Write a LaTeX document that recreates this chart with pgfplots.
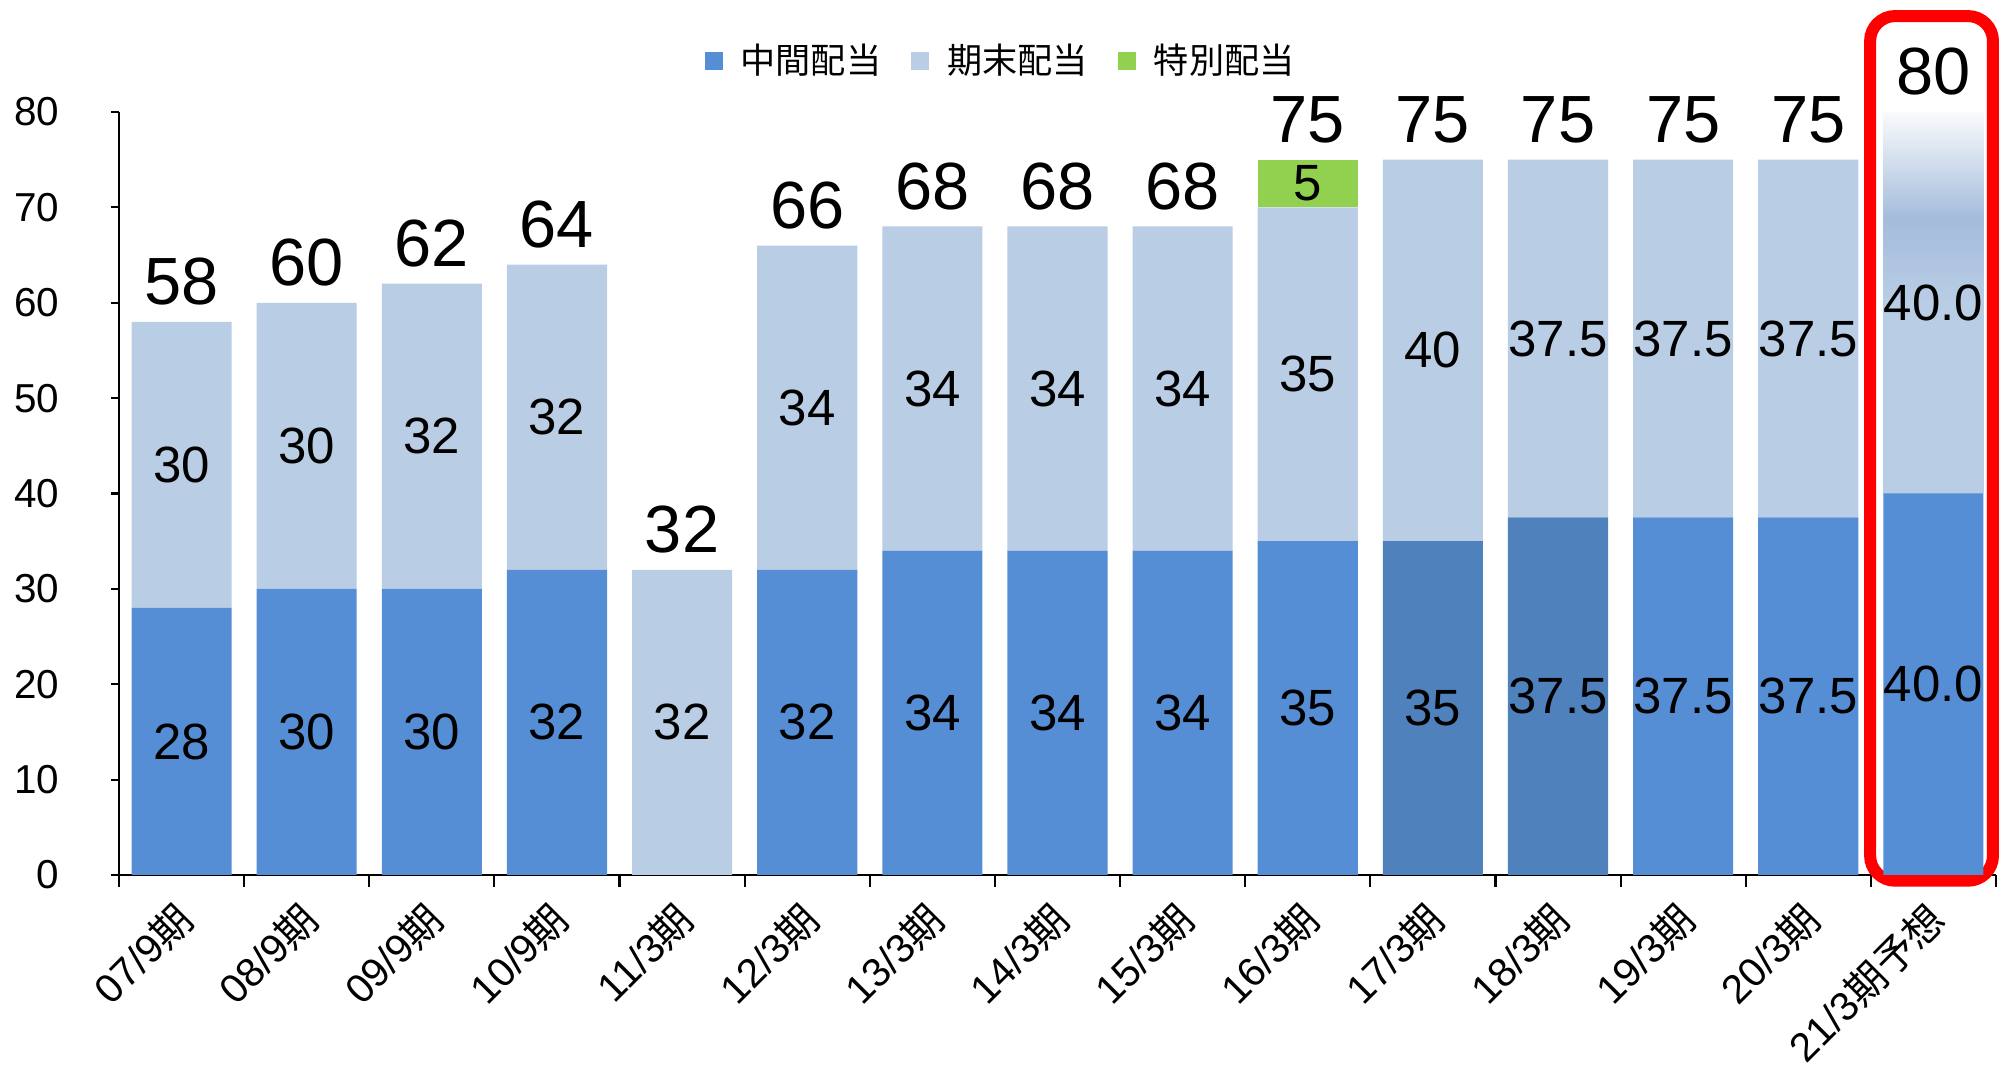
\documentclass[border=0pt]{standalone}
\usepackage{fontspec}
\setmainfont{Liberation Sans}
\newfontfamily\cjk{Noto Sans CJK JP}
\usepackage{pgfplots}
\pgfplotsset{compat=1.18}
\definecolor{midblue}{HTML}{558ED5}
\definecolor{darkblue}{HTML}{4F81BD}
\definecolor{lightblue}{HTML}{B9CDE5}
\definecolor{greyblue}{HTML}{A4BCDB}
\definecolor{special}{HTML}{92D050}
% last (forecast) bar: fades to white at the top
\pgfdeclareverticalshading{forecast}{100bp}{color(0bp)=(lightblue); color(25bp)=(lightblue); color(50bp)=(lightblue); color(61bp)=(greyblue); color(75bp)=(white!92!lightblue); color(100bp)=(white)}

\pgfplotsset{
  seg/.style={draw=none, point meta=explicit symbolic,
    nodes near coords={\pgfplotspointmeta},
    every node near coord/.append style={anchor=center, inner sep=0pt, text=black,
      font=\fontsize{14.5pt}{16pt}\selectfont}},
  sq/.style={legend image code/.code={\fill[##1] (0mm,-0.9mm) rectangle (1.8mm,0.9mm); \path (2.9mm,0);}},
  frame/.style={scale only axis, width=187.7mm, height=76.3mm,
    xmin=-0.5, xmax=14.5, ymin=0, ymax=80, clip=false},
}

\begin{document}
\begin{tikzpicture}
\useasboundingbox (-11.9mm,-20.2mm) rectangle (188.3mm,87.5mm);
\begin{axis}[
    frame,
    ybar stacked, bar width=0.8,
    axis lines*=left,
    axis line style={black, line width=0.7pt},
    tick align=outside,
    tick style={black, line width=0.6pt},
    ytick={0,10,...,80},
    major tick length=0.8mm,
    xtick={0,...,14},
    major x tick style={draw=none},
    minor xtick={-0.5,0.5,...,14.5},
    minor tick length=1.2mm,
    xticklabels={07/9{\cjk 期},08/9{\cjk 期},09/9{\cjk 期},10/9{\cjk 期},11/3{\cjk 期},12/3{\cjk 期},13/3{\cjk 期},14/3{\cjk 期},15/3{\cjk 期},16/3{\cjk 期},17/3{\cjk 期},18/3{\cjk 期},19/3{\cjk 期},20/3{\cjk 期},21/3{\cjk 期予想}},
    xticklabel style={rotate=45, anchor=north east, inner sep=0pt, xshift=-1.7mm, yshift=-0.4mm},
    yticklabel style={anchor=east, inner sep=0pt, xshift=-5.1mm},
    tick label style={font=\fontsize{11.5pt}{13.5pt}\selectfont},
    /pgf/number format/assume math mode=true,
    legend columns=3,
    legend style={at={(axis description cs:0.471,1.067)}, anchor=center, draw=none, fill=none,
      font=\cjk\fontsize{10pt}{12pt}\selectfont,
      /tikz/every even column/.append style={column sep=2.3mm}},
]
% 中間配当
\addplot[seg, sq, fill=midblue] coordinates {
 (0,28) [28] (1,30) [30] (2,30) [30] (3,32) [32] (4,0) [] (5,32) [32] (6,34) [34]
 (7,34) [34] (8,34) [34] (9,35) [35] (10,0) [] (11,0) [] (12,37.5) [37.5] (13,37.5) [37.5] (14,40) [40.0]};
\addlegendentry{中間配当}
% 中間配当 (darker bars)
\addplot[seg, forget plot, fill=darkblue] coordinates {
 (0,0) [] (1,0) [] (2,0) [] (3,0) [] (4,0) [] (5,0) [] (6,0) []
 (7,0) [] (8,0) [] (9,0) [] (10,35) [35] (11,37.5) [37.5] (12,0) [] (13,0) [] (14,0) []};
% 期末配当
\addplot[seg, sq, fill=lightblue] coordinates {
 (0,30) [30] (1,30) [30] (2,32) [32] (3,32) [32] (4,32) [32] (5,34) [34] (6,34) [34]
 (7,34) [34] (8,34) [34] (9,35) [35] (10,40) [40] (11,37.5) [37.5] (12,37.5) [37.5] (13,37.5) [37.5] (14,0) []};
\addlegendentry{期末配当}
% 期末配当 forecast
\addplot[seg, forget plot, shading=forecast] coordinates {
 (0,0) [] (1,0) [] (2,0) [] (3,0) [] (4,0) [] (5,0) [] (6,0) []
 (7,0) [] (8,0) [] (9,0) [] (10,0) [] (11,0) [] (12,0) [] (13,0) [] (14,40) [40.0]};
% 特別配当
\addplot[seg, sq, fill=special] coordinates {
 (0,0) [] (1,0) [] (2,0) [] (3,0) [] (4,0) [] (5,0) [] (6,0) []
 (7,0) [] (8,0) [] (9,5) [5] (10,0) [] (11,0) [] (12,0) [] (13,0) [] (14,0) []};
\addlegendentry{特別配当}
\draw[red, line width=1.2mm, rounded corners=2.5mm] (axis cs:13.494,-0.6) rectangle (axis cs:14.476,90.06);
\end{axis}
% totals above the bars
\begin{axis}[frame, hide axis]
\addplot[draw=none, mark=none, point meta=explicit symbolic,
  nodes near coords={\pgfplotspointmeta},
  every node near coord/.append style={anchor=south, inner sep=0pt, yshift=1.6mm,
    font=\fontsize{19pt}{21pt}\selectfont}] coordinates {
 (0,58) [58] (1,60) [60] (2,62) [62] (3,64) [64] (4,32) [32] (5,66) [66] (6,68) [68]
 (7,68) [68] (8,68) [68] (9,75) [75] (10,75) [75] (11,75) [75] (12,75) [75] (13,75) [75] (14,80) [80]};
\end{axis}
\end{tikzpicture}
\end{document}
